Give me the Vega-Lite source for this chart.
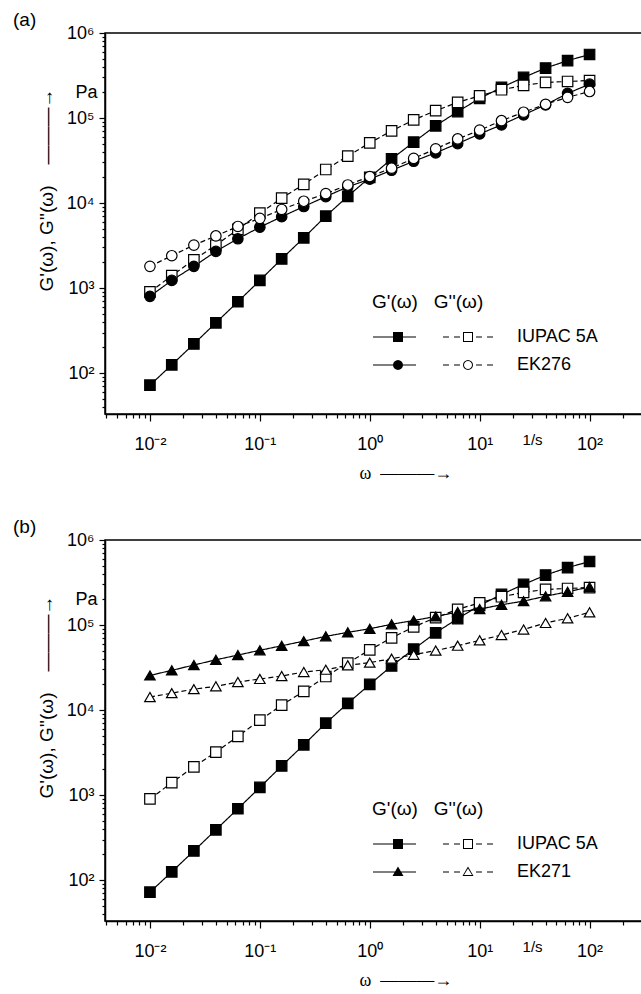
{
  "$schema": "https://vega.github.io/schema/vega-lite/v6.json",
  "padding": {"left": 12, "top": 10, "right": 0, "bottom": 0},
  "spacing": 34,
  "config": {
    "font": "Liberation Sans",
    "view": {"stroke": "black", "strokeWidth": 1.5},
    "axis": {"domainColor": "black", "domainWidth": 1.5, "tickColor": "black", "tickWidth": 1.2, "labelColor": "black", "labelFont": "Liberation Sans", "labelFontSize": 18, "titleFont": "Liberation Sans", "titleFontSize": 19, "titleFontWeight": "normal", "titleColor": "black", "grid": false, "labelOverlap": false, "labelFlush": false},
    "title": {"font": "Liberation Sans", "fontSize": 19, "fontWeight": "normal", "color": "black"}
  },
  "data": {"values": [
    {"panel":"a","sample":"IUPAC 5A","modulus":"storage","omega":0.01,"G":72},
    {"panel":"a","sample":"IUPAC 5A","modulus":"storage","omega":0.0158,"G":125},
    {"panel":"a","sample":"IUPAC 5A","modulus":"storage","omega":0.0251,"G":220},
    {"panel":"a","sample":"IUPAC 5A","modulus":"storage","omega":0.0398,"G":390},
    {"panel":"a","sample":"IUPAC 5A","modulus":"storage","omega":0.0631,"G":690},
    {"panel":"a","sample":"IUPAC 5A","modulus":"storage","omega":0.1,"G":1230},
    {"panel":"a","sample":"IUPAC 5A","modulus":"storage","omega":0.158,"G":2200},
    {"panel":"a","sample":"IUPAC 5A","modulus":"storage","omega":0.251,"G":3900},
    {"panel":"a","sample":"IUPAC 5A","modulus":"storage","omega":0.398,"G":7000},
    {"panel":"a","sample":"IUPAC 5A","modulus":"storage","omega":0.631,"G":12000},
    {"panel":"a","sample":"IUPAC 5A","modulus":"storage","omega":1,"G":20000},
    {"panel":"a","sample":"IUPAC 5A","modulus":"storage","omega":1.58,"G":33000},
    {"panel":"a","sample":"IUPAC 5A","modulus":"storage","omega":2.51,"G":52000},
    {"panel":"a","sample":"IUPAC 5A","modulus":"storage","omega":3.98,"G":81000},
    {"panel":"a","sample":"IUPAC 5A","modulus":"storage","omega":6.31,"G":119000},
    {"panel":"a","sample":"IUPAC 5A","modulus":"storage","omega":10,"G":170000},
    {"panel":"a","sample":"IUPAC 5A","modulus":"storage","omega":15.8,"G":229000},
    {"panel":"a","sample":"IUPAC 5A","modulus":"storage","omega":25.1,"G":300000},
    {"panel":"a","sample":"IUPAC 5A","modulus":"storage","omega":39.8,"G":387000},
    {"panel":"a","sample":"IUPAC 5A","modulus":"storage","omega":63.1,"G":473000},
    {"panel":"a","sample":"IUPAC 5A","modulus":"storage","omega":100,"G":559000},
    {"panel":"a","sample":"IUPAC 5A","modulus":"loss","omega":0.01,"G":900},
    {"panel":"a","sample":"IUPAC 5A","modulus":"loss","omega":0.0158,"G":1400},
    {"panel":"a","sample":"IUPAC 5A","modulus":"loss","omega":0.0251,"G":2150},
    {"panel":"a","sample":"IUPAC 5A","modulus":"loss","omega":0.0398,"G":3200},
    {"panel":"a","sample":"IUPAC 5A","modulus":"loss","omega":0.0631,"G":4900},
    {"panel":"a","sample":"IUPAC 5A","modulus":"loss","omega":0.1,"G":7600},
    {"panel":"a","sample":"IUPAC 5A","modulus":"loss","omega":0.158,"G":11400},
    {"panel":"a","sample":"IUPAC 5A","modulus":"loss","omega":0.251,"G":16600},
    {"panel":"a","sample":"IUPAC 5A","modulus":"loss","omega":0.398,"G":24800},
    {"panel":"a","sample":"IUPAC 5A","modulus":"loss","omega":0.631,"G":35700},
    {"panel":"a","sample":"IUPAC 5A","modulus":"loss","omega":1,"G":51000},
    {"panel":"a","sample":"IUPAC 5A","modulus":"loss","omega":1.58,"G":70600},
    {"panel":"a","sample":"IUPAC 5A","modulus":"loss","omega":2.51,"G":95000},
    {"panel":"a","sample":"IUPAC 5A","modulus":"loss","omega":3.98,"G":122000},
    {"panel":"a","sample":"IUPAC 5A","modulus":"loss","omega":6.31,"G":153000},
    {"panel":"a","sample":"IUPAC 5A","modulus":"loss","omega":10,"G":182000},
    {"panel":"a","sample":"IUPAC 5A","modulus":"loss","omega":15.8,"G":215000},
    {"panel":"a","sample":"IUPAC 5A","modulus":"loss","omega":25.1,"G":242000},
    {"panel":"a","sample":"IUPAC 5A","modulus":"loss","omega":39.8,"G":262000},
    {"panel":"a","sample":"IUPAC 5A","modulus":"loss","omega":63.1,"G":269000},
    {"panel":"a","sample":"IUPAC 5A","modulus":"loss","omega":100,"G":276000},
    {"panel":"a","sample":"EK276","modulus":"storage","omega":0.01,"G":800},
    {"panel":"a","sample":"EK276","modulus":"storage","omega":0.0158,"G":1230},
    {"panel":"a","sample":"EK276","modulus":"storage","omega":0.0251,"G":1800},
    {"panel":"a","sample":"EK276","modulus":"storage","omega":0.0398,"G":2700},
    {"panel":"a","sample":"EK276","modulus":"storage","omega":0.0631,"G":3800},
    {"panel":"a","sample":"EK276","modulus":"storage","omega":0.1,"G":5200},
    {"panel":"a","sample":"EK276","modulus":"storage","omega":0.158,"G":6900},
    {"panel":"a","sample":"EK276","modulus":"storage","omega":0.251,"G":9100},
    {"panel":"a","sample":"EK276","modulus":"storage","omega":0.398,"G":11900},
    {"panel":"a","sample":"EK276","modulus":"storage","omega":0.631,"G":15500},
    {"panel":"a","sample":"EK276","modulus":"storage","omega":1,"G":19100},
    {"panel":"a","sample":"EK276","modulus":"storage","omega":1.58,"G":24300},
    {"panel":"a","sample":"EK276","modulus":"storage","omega":2.51,"G":31000},
    {"panel":"a","sample":"EK276","modulus":"storage","omega":3.98,"G":39000},
    {"panel":"a","sample":"EK276","modulus":"storage","omega":6.31,"G":50000},
    {"panel":"a","sample":"EK276","modulus":"storage","omega":10,"G":65000},
    {"panel":"a","sample":"EK276","modulus":"storage","omega":15.8,"G":83000},
    {"panel":"a","sample":"EK276","modulus":"storage","omega":25.1,"G":109000},
    {"panel":"a","sample":"EK276","modulus":"storage","omega":39.8,"G":143000},
    {"panel":"a","sample":"EK276","modulus":"storage","omega":63.1,"G":195000},
    {"panel":"a","sample":"EK276","modulus":"storage","omega":100,"G":250000},
    {"panel":"a","sample":"EK276","modulus":"loss","omega":0.01,"G":1800},
    {"panel":"a","sample":"EK276","modulus":"loss","omega":0.0158,"G":2400},
    {"panel":"a","sample":"EK276","modulus":"loss","omega":0.0251,"G":3200},
    {"panel":"a","sample":"EK276","modulus":"loss","omega":0.0398,"G":4100},
    {"panel":"a","sample":"EK276","modulus":"loss","omega":0.0631,"G":5300},
    {"panel":"a","sample":"EK276","modulus":"loss","omega":0.1,"G":6600},
    {"panel":"a","sample":"EK276","modulus":"loss","omega":0.158,"G":8400},
    {"panel":"a","sample":"EK276","modulus":"loss","omega":0.251,"G":10500},
    {"panel":"a","sample":"EK276","modulus":"loss","omega":0.398,"G":12900},
    {"panel":"a","sample":"EK276","modulus":"loss","omega":0.631,"G":16300},
    {"panel":"a","sample":"EK276","modulus":"loss","omega":1,"G":20500},
    {"panel":"a","sample":"EK276","modulus":"loss","omega":1.58,"G":25700},
    {"panel":"a","sample":"EK276","modulus":"loss","omega":2.51,"G":33500},
    {"panel":"a","sample":"EK276","modulus":"loss","omega":3.98,"G":43400},
    {"panel":"a","sample":"EK276","modulus":"loss","omega":6.31,"G":56700},
    {"panel":"a","sample":"EK276","modulus":"loss","omega":10,"G":72000},
    {"panel":"a","sample":"EK276","modulus":"loss","omega":15.8,"G":93000},
    {"panel":"a","sample":"EK276","modulus":"loss","omega":25.1,"G":117000},
    {"panel":"a","sample":"EK276","modulus":"loss","omega":39.8,"G":145000},
    {"panel":"a","sample":"EK276","modulus":"loss","omega":63.1,"G":175000},
    {"panel":"a","sample":"EK276","modulus":"loss","omega":100,"G":205000},
    {"panel":"b","sample":"IUPAC 5A","modulus":"storage","omega":0.01,"G":72},
    {"panel":"b","sample":"IUPAC 5A","modulus":"storage","omega":0.0158,"G":125},
    {"panel":"b","sample":"IUPAC 5A","modulus":"storage","omega":0.0251,"G":220},
    {"panel":"b","sample":"IUPAC 5A","modulus":"storage","omega":0.0398,"G":390},
    {"panel":"b","sample":"IUPAC 5A","modulus":"storage","omega":0.0631,"G":690},
    {"panel":"b","sample":"IUPAC 5A","modulus":"storage","omega":0.1,"G":1230},
    {"panel":"b","sample":"IUPAC 5A","modulus":"storage","omega":0.158,"G":2200},
    {"panel":"b","sample":"IUPAC 5A","modulus":"storage","omega":0.251,"G":3900},
    {"panel":"b","sample":"IUPAC 5A","modulus":"storage","omega":0.398,"G":7000},
    {"panel":"b","sample":"IUPAC 5A","modulus":"storage","omega":0.631,"G":12000},
    {"panel":"b","sample":"IUPAC 5A","modulus":"storage","omega":1,"G":20000},
    {"panel":"b","sample":"IUPAC 5A","modulus":"storage","omega":1.58,"G":33000},
    {"panel":"b","sample":"IUPAC 5A","modulus":"storage","omega":2.51,"G":52000},
    {"panel":"b","sample":"IUPAC 5A","modulus":"storage","omega":3.98,"G":81000},
    {"panel":"b","sample":"IUPAC 5A","modulus":"storage","omega":6.31,"G":119000},
    {"panel":"b","sample":"IUPAC 5A","modulus":"storage","omega":10,"G":170000},
    {"panel":"b","sample":"IUPAC 5A","modulus":"storage","omega":15.8,"G":229000},
    {"panel":"b","sample":"IUPAC 5A","modulus":"storage","omega":25.1,"G":300000},
    {"panel":"b","sample":"IUPAC 5A","modulus":"storage","omega":39.8,"G":387000},
    {"panel":"b","sample":"IUPAC 5A","modulus":"storage","omega":63.1,"G":473000},
    {"panel":"b","sample":"IUPAC 5A","modulus":"storage","omega":100,"G":559000},
    {"panel":"b","sample":"IUPAC 5A","modulus":"loss","omega":0.01,"G":900},
    {"panel":"b","sample":"IUPAC 5A","modulus":"loss","omega":0.0158,"G":1400},
    {"panel":"b","sample":"IUPAC 5A","modulus":"loss","omega":0.0251,"G":2150},
    {"panel":"b","sample":"IUPAC 5A","modulus":"loss","omega":0.0398,"G":3200},
    {"panel":"b","sample":"IUPAC 5A","modulus":"loss","omega":0.0631,"G":4900},
    {"panel":"b","sample":"IUPAC 5A","modulus":"loss","omega":0.1,"G":7600},
    {"panel":"b","sample":"IUPAC 5A","modulus":"loss","omega":0.158,"G":11400},
    {"panel":"b","sample":"IUPAC 5A","modulus":"loss","omega":0.251,"G":16600},
    {"panel":"b","sample":"IUPAC 5A","modulus":"loss","omega":0.398,"G":24800},
    {"panel":"b","sample":"IUPAC 5A","modulus":"loss","omega":0.631,"G":35700},
    {"panel":"b","sample":"IUPAC 5A","modulus":"loss","omega":1,"G":51000},
    {"panel":"b","sample":"IUPAC 5A","modulus":"loss","omega":1.58,"G":70600},
    {"panel":"b","sample":"IUPAC 5A","modulus":"loss","omega":2.51,"G":95000},
    {"panel":"b","sample":"IUPAC 5A","modulus":"loss","omega":3.98,"G":122000},
    {"panel":"b","sample":"IUPAC 5A","modulus":"loss","omega":6.31,"G":153000},
    {"panel":"b","sample":"IUPAC 5A","modulus":"loss","omega":10,"G":182000},
    {"panel":"b","sample":"IUPAC 5A","modulus":"loss","omega":15.8,"G":215000},
    {"panel":"b","sample":"IUPAC 5A","modulus":"loss","omega":25.1,"G":242000},
    {"panel":"b","sample":"IUPAC 5A","modulus":"loss","omega":39.8,"G":262000},
    {"panel":"b","sample":"IUPAC 5A","modulus":"loss","omega":63.1,"G":269000},
    {"panel":"b","sample":"IUPAC 5A","modulus":"loss","omega":100,"G":276000},
    {"panel":"b","sample":"EK271","modulus":"storage","omega":0.01,"G":25500},
    {"panel":"b","sample":"EK271","modulus":"storage","omega":0.0158,"G":29300},
    {"panel":"b","sample":"EK271","modulus":"storage","omega":0.0251,"G":33800},
    {"panel":"b","sample":"EK271","modulus":"storage","omega":0.0398,"G":39000},
    {"panel":"b","sample":"EK271","modulus":"storage","omega":0.0631,"G":44300},
    {"panel":"b","sample":"EK271","modulus":"storage","omega":0.1,"G":50400},
    {"panel":"b","sample":"EK271","modulus":"storage","omega":0.158,"G":57000},
    {"panel":"b","sample":"EK271","modulus":"storage","omega":0.251,"G":64600},
    {"panel":"b","sample":"EK271","modulus":"storage","omega":0.398,"G":73600},
    {"panel":"b","sample":"EK271","modulus":"storage","omega":0.631,"G":82000},
    {"panel":"b","sample":"EK271","modulus":"storage","omega":1,"G":90400},
    {"panel":"b","sample":"EK271","modulus":"storage","omega":1.58,"G":102000},
    {"panel":"b","sample":"EK271","modulus":"storage","omega":2.51,"G":113000},
    {"panel":"b","sample":"EK271","modulus":"storage","omega":3.98,"G":126000},
    {"panel":"b","sample":"EK271","modulus":"storage","omega":6.31,"G":142000},
    {"panel":"b","sample":"EK271","modulus":"storage","omega":10,"G":154000},
    {"panel":"b","sample":"EK271","modulus":"storage","omega":15.8,"G":173000},
    {"panel":"b","sample":"EK271","modulus":"storage","omega":25.1,"G":191000},
    {"panel":"b","sample":"EK271","modulus":"storage","omega":39.8,"G":218000},
    {"panel":"b","sample":"EK271","modulus":"storage","omega":63.1,"G":246000},
    {"panel":"b","sample":"EK271","modulus":"storage","omega":100,"G":280000},
    {"panel":"b","sample":"EK271","modulus":"loss","omega":0.01,"G":14200},
    {"panel":"b","sample":"EK271","modulus":"loss","omega":0.0158,"G":15800},
    {"panel":"b","sample":"EK271","modulus":"loss","omega":0.0251,"G":17600},
    {"panel":"b","sample":"EK271","modulus":"loss","omega":0.0398,"G":19000},
    {"panel":"b","sample":"EK271","modulus":"loss","omega":0.0631,"G":21300},
    {"panel":"b","sample":"EK271","modulus":"loss","omega":0.1,"G":23200},
    {"panel":"b","sample":"EK271","modulus":"loss","omega":0.158,"G":25100},
    {"panel":"b","sample":"EK271","modulus":"loss","omega":0.251,"G":28000},
    {"panel":"b","sample":"EK271","modulus":"loss","omega":0.398,"G":29800},
    {"panel":"b","sample":"EK271","modulus":"loss","omega":0.631,"G":33600},
    {"panel":"b","sample":"EK271","modulus":"loss","omega":1,"G":36100},
    {"panel":"b","sample":"EK271","modulus":"loss","omega":1.58,"G":40200},
    {"panel":"b","sample":"EK271","modulus":"loss","omega":2.51,"G":44700},
    {"panel":"b","sample":"EK271","modulus":"loss","omega":3.98,"G":50000},
    {"panel":"b","sample":"EK271","modulus":"loss","omega":6.31,"G":57100},
    {"panel":"b","sample":"EK271","modulus":"loss","omega":10,"G":66000},
    {"panel":"b","sample":"EK271","modulus":"loss","omega":15.8,"G":76300},
    {"panel":"b","sample":"EK271","modulus":"loss","omega":25.1,"G":88600},
    {"panel":"b","sample":"EK271","modulus":"loss","omega":39.8,"G":105700},
    {"panel":"b","sample":"EK271","modulus":"loss","omega":63.1,"G":120000},
    {"panel":"b","sample":"EK271","modulus":"loss","omega":100,"G":141000}
  ]},
  "vconcat": [
    {
      "width": 537, "height": 381,
      "title": {"text": "(a)", "anchor": "start", "frame": "bounds", "dx": -24, "offset": -6},
      "transform": [{"filter": "datum.panel === 'a'"}],
      "encoding": {
        "x": {"field": "omega", "type": "quantitative",
          "scale": {"type": "log", "domain": [0.0039, 300], "nice": false},
          "axis": {
            "values": [0.004,0.005,0.006,0.007,0.008,0.009,0.01,0.02,0.03,0.04,0.05,0.06,0.07,0.08,0.09,0.1,0.2,0.3,0.4,0.5,0.6,0.7,0.8,0.9,1,2,3,4,5,6,7,8,9,10,20,30,40,50,60,70,80,90,100,200,300],
            "labelExpr": "abs(log(datum.value)/LN10 - round(log(datum.value)/LN10)) < 0.001 ? '10' + replace(replace(replace(replace(replace(replace(replace(replace('' + round(log(datum.value)/LN10), '-', '⁻'), '0', '⁰'), '1', '¹'), '2', '²'), '3', '³'), '4', '⁴'), '5', '⁵'), '6', '⁶') : (abs(datum.value - 30) < 0.01 ? '1/s' : '')",
            "tickSize": {"condition": {"test": "abs(log(datum.value)/LN10 - round(log(datum.value)/LN10)) < 0.001", "value": 7}, "value": 4},
            "labelFontSize": {"condition": {"test": "abs(datum.value - 30) < 0.01", "value": 15}, "value": 18},
            "labelPadding": 14,
            "title": "ω\u00a0\u00a0———→",
            "titleFont": "Liberation Serif", "titleFontSize": 18,
            "titleX": 254, "titleY": 64, "titleAlign": "left", "titleBaseline": "alphabetic"
          }},
        "y": {"field": "G", "type": "quantitative",
          "scale": {"type": "log", "domain": [33, 1000000], "nice": false},
          "axis": {
            "values": [40,50,60,70,80,90,100,200,300,400,500,600,700,800,900,1000,2000,3000,4000,5000,6000,7000,8000,9000,10000,20000,30000,40000,50000,60000,70000,80000,90000,100000,200000,300000,400000,500000,600000,700000,800000,900000,1000000],
            "labelExpr": "abs(log(datum.value)/LN10 - round(log(datum.value)/LN10)) < 0.001 ? '10' + replace(replace(replace(replace(replace(replace(replace(replace('' + round(log(datum.value)/LN10), '-', '⁻'), '0', '⁰'), '1', '¹'), '2', '²'), '3', '³'), '4', '⁴'), '5', '⁵'), '6', '⁶') : (abs(datum.value - 200000) < 1 ? 'Pa' : '')",
            "tickSize": {"condition": {"test": "abs(log(datum.value)/LN10 - round(log(datum.value)/LN10)) < 0.001", "value": 6}, "value": 3},
            "labelPadding": 5,
            "title": "G'(ω), G''(ω)\u00a0\u00a0\u00a0\u00a0———→",
            "titleX": -53, "titleY": 258, "titleAlign": "left", "titleAngle": 270, "titleBaseline": "alphabetic"
          }}
      },
      "layer": [
        {"mark": {"type": "line", "color": "black", "strokeWidth": 1.2},
         "encoding": {"detail": {"field": "sample"},
           "strokeDash": {"field": "modulus", "type": "nominal", "scale": {"domain": ["storage", "loss"], "range": [[1, 0], [5, 3]]}, "legend": null}}},
        {"mark": {"type": "point", "filled": true, "stroke": "black", "strokeWidth": 1.2, "opacity": 1},
         "encoding": {
           "shape": {"field": "sample", "type": "nominal", "scale": {"domain": ["IUPAC 5A", "EK276", "EK271"], "range": ["square", "circle", "triangle-up"]}, "legend": null},
           "size": {"field": "sample", "type": "nominal", "scale": {"domain": ["IUPAC 5A", "EK276", "EK271"], "range": [110, 110, 150]}, "legend": null},
           "fill": {"field": "modulus", "type": "nominal", "scale": {"domain": ["storage", "loss"], "range": ["black", "white"]}, "legend": null}}},
        {"transform": [{"filter": "datum.G < 0"}],
         "mark": {"type": "point", "filled": true, "fill": "black", "stroke": "black", "strokeWidth": 1.2},
         "encoding": {
           "shape": {"field": "sample", "type": "nominal",
             "scale": {"domain": ["IUPAC 5A", "EK276"], "range": [
               "M-1.6,-0.12H7V0.12H-1.6ZM2.4,-1H4.4V1H2.4ZM12.4,-0.12H13.6V0.12H12.4ZM14.6,-0.12H15.8V0.12H14.6ZM19,-0.12H20.2V0.12H19ZM21.2,-0.12H22.4V0.12H21.2ZM16.4,-1H18.4V1H16.4ZM16.6,-0.8V0.8H18.2V-0.8Z",
               "M-1.6,-0.12H7V0.12H-1.6ZM4.4,0L4.324,0.383L4.107,0.707L3.783,0.924L3.4,1L3.017,0.924L2.693,0.707L2.476,0.383L2.4,0L2.476,-0.383L2.693,-0.707L3.017,-0.924L3.4,-1L3.783,-0.924L4.107,-0.707L4.324,-0.383ZM12.4,-0.12H13.6V0.12H12.4ZM14.6,-0.12H15.8V0.12H14.6ZM19,-0.12H20.2V0.12H19ZM21.2,-0.12H22.4V0.12H21.2ZM18.4,0L18.324,0.383L18.107,0.707L17.783,0.924L17.4,1L17.017,0.924L16.693,0.707L16.476,0.383L16.4,0L16.476,-0.383L16.693,-0.707L17.017,-0.924L17.4,-1L17.783,-0.924L18.107,-0.707L18.324,-0.383ZM18.2,0L18.139,-0.306L17.966,-0.566L17.706,-0.739L17.4,-0.8L17.094,-0.739L16.834,-0.566L16.661,-0.306L16.6,0L16.661,0.306L16.834,0.566L17.094,0.739L17.4,0.8L17.706,0.739L17.966,0.566L18.139,0.306Z"
             ]},
             "legend": {"orient": "none", "legendX": 267, "legendY": 260, "padding": 0,
               "title": "G'(ω)\u00a0\u00a0\u00a0G''(ω)", "titleFont": "Liberation Sans", "titleFontSize": 19, "titleFontWeight": "normal", "titleColor": "black", "titlePadding": 16,
               "labelFont": "Liberation Sans", "labelFontSize": 18, "labelColor": "black", "labelOffset": 127, "rowPadding": 10,
               "symbolSize": 100, "symbolFillColor": "black", "symbolStrokeColor": "black", "symbolStrokeWidth": 1.2, "symbolOpacity": 1,
               "encode": {"symbols": {"stroke": {"value": "black"}, "strokeWidth": {"value": 1.2}, "fill": {"value": "black"}, "opacity": {"value": 1}}}}}}},
        {"data": {"values": [{}]},
         "mark": {"type": "text", "align": "left", "baseline": "middle", "fontSize": 19, "font": "Liberation Sans", "color": "black"},
         "encoding": {"x": {"datum": 0.0048}, "y": {"datum": 540000}, "text": {"value": "T = 150 °C"}}}
      ],
      "resolve": {"scale": {"shape": "independent", "size": "independent"}}
    },
    {
      "width": 537, "height": 381,
      "title": {"text": "(b)", "anchor": "start", "frame": "bounds", "dx": -24, "offset": -6},
      "transform": [{"filter": "datum.panel === 'b'"}],
      "encoding": {
        "x": {"field": "omega", "type": "quantitative",
          "scale": {"type": "log", "domain": [0.0039, 300], "nice": false},
          "axis": {
            "values": [0.004,0.005,0.006,0.007,0.008,0.009,0.01,0.02,0.03,0.04,0.05,0.06,0.07,0.08,0.09,0.1,0.2,0.3,0.4,0.5,0.6,0.7,0.8,0.9,1,2,3,4,5,6,7,8,9,10,20,30,40,50,60,70,80,90,100,200,300],
            "labelExpr": "abs(log(datum.value)/LN10 - round(log(datum.value)/LN10)) < 0.001 ? '10' + replace(replace(replace(replace(replace(replace(replace(replace('' + round(log(datum.value)/LN10), '-', '⁻'), '0', '⁰'), '1', '¹'), '2', '²'), '3', '³'), '4', '⁴'), '5', '⁵'), '6', '⁶') : (abs(datum.value - 30) < 0.01 ? '1/s' : '')",
            "tickSize": {"condition": {"test": "abs(log(datum.value)/LN10 - round(log(datum.value)/LN10)) < 0.001", "value": 7}, "value": 4},
            "labelFontSize": {"condition": {"test": "abs(datum.value - 30) < 0.01", "value": 15}, "value": 18},
            "labelPadding": 14,
            "title": "ω\u00a0\u00a0———→",
            "titleFont": "Liberation Serif", "titleFontSize": 18,
            "titleX": 254, "titleY": 64, "titleAlign": "left", "titleBaseline": "alphabetic"
          }},
        "y": {"field": "G", "type": "quantitative",
          "scale": {"type": "log", "domain": [33, 1000000], "nice": false},
          "axis": {
            "values": [40,50,60,70,80,90,100,200,300,400,500,600,700,800,900,1000,2000,3000,4000,5000,6000,7000,8000,9000,10000,20000,30000,40000,50000,60000,70000,80000,90000,100000,200000,300000,400000,500000,600000,700000,800000,900000,1000000],
            "labelExpr": "abs(log(datum.value)/LN10 - round(log(datum.value)/LN10)) < 0.001 ? '10' + replace(replace(replace(replace(replace(replace(replace(replace('' + round(log(datum.value)/LN10), '-', '⁻'), '0', '⁰'), '1', '¹'), '2', '²'), '3', '³'), '4', '⁴'), '5', '⁵'), '6', '⁶') : (abs(datum.value - 200000) < 1 ? 'Pa' : '')",
            "tickSize": {"condition": {"test": "abs(log(datum.value)/LN10 - round(log(datum.value)/LN10)) < 0.001", "value": 6}, "value": 3},
            "labelPadding": 5,
            "title": "G'(ω), G''(ω)\u00a0\u00a0\u00a0\u00a0———→",
            "titleX": -53, "titleY": 258, "titleAlign": "left", "titleAngle": 270, "titleBaseline": "alphabetic"
          }}
      },
      "layer": [
        {"mark": {"type": "line", "color": "black", "strokeWidth": 1.2},
         "encoding": {"detail": {"field": "sample"},
           "strokeDash": {"field": "modulus", "type": "nominal", "scale": {"domain": ["storage", "loss"], "range": [[1, 0], [5, 3]]}, "legend": null}}},
        {"mark": {"type": "point", "filled": true, "stroke": "black", "strokeWidth": 1.2, "opacity": 1},
         "encoding": {
           "shape": {"field": "sample", "type": "nominal", "scale": {"domain": ["IUPAC 5A", "EK276", "EK271"], "range": ["square", "circle", "triangle-up"]}, "legend": null},
           "size": {"field": "sample", "type": "nominal", "scale": {"domain": ["IUPAC 5A", "EK276", "EK271"], "range": [110, 110, 150]}, "legend": null},
           "fill": {"field": "modulus", "type": "nominal", "scale": {"domain": ["storage", "loss"], "range": ["black", "white"]}, "legend": null}}},
        {"transform": [{"filter": "datum.G < 0"}],
         "mark": {"type": "point", "filled": true, "fill": "black", "stroke": "black", "strokeWidth": 1.2},
         "encoding": {
           "shape": {"field": "sample", "type": "nominal",
             "scale": {"domain": ["IUPAC 5A", "EK271"], "range": [
               "M-1.6,-0.12H7V0.12H-1.6ZM2.4,-1H4.4V1H2.4ZM12.4,-0.12H13.6V0.12H12.4ZM14.6,-0.12H15.8V0.12H14.6ZM19,-0.12H20.2V0.12H19ZM21.2,-0.12H22.4V0.12H21.2ZM16.4,-1H18.4V1H16.4ZM16.6,-0.8V0.8H18.2V-0.8Z",
               "M-1.6,-0.12H7V0.12H-1.6ZM3.4,-1.1L4.5,0.8H2.3ZM12.4,-0.12H13.6V0.12H12.4ZM14.6,-0.12H15.8V0.12H14.6ZM19,-0.12H20.2V0.12H19ZM21.2,-0.12H22.4V0.12H21.2ZM17.4,-1.1L18.5,0.8H16.3ZM17.4,-0.72L16.6,0.6H18.2Z"
             ]},
             "legend": {"orient": "none", "legendX": 267, "legendY": 260, "padding": 0,
               "title": "G'(ω)\u00a0\u00a0\u00a0G''(ω)", "titleFont": "Liberation Sans", "titleFontSize": 19, "titleFontWeight": "normal", "titleColor": "black", "titlePadding": 16,
               "labelFont": "Liberation Sans", "labelFontSize": 18, "labelColor": "black", "labelOffset": 127, "rowPadding": 10,
               "symbolSize": 100, "symbolFillColor": "black", "symbolStrokeColor": "black", "symbolStrokeWidth": 1.2, "symbolOpacity": 1,
               "encode": {"symbols": {"stroke": {"value": "black"}, "strokeWidth": {"value": 1.2}, "fill": {"value": "black"}, "opacity": {"value": 1}}}}}}},
        {"data": {"values": [{}]},
         "mark": {"type": "text", "align": "left", "baseline": "middle", "fontSize": 19, "font": "Liberation Sans", "color": "black"},
         "encoding": {"x": {"datum": 0.0048}, "y": {"datum": 540000}, "text": {"value": "T = 150 °C"}}}
      ],
      "resolve": {"scale": {"shape": "independent", "size": "independent"}}
    }
  ]
}
